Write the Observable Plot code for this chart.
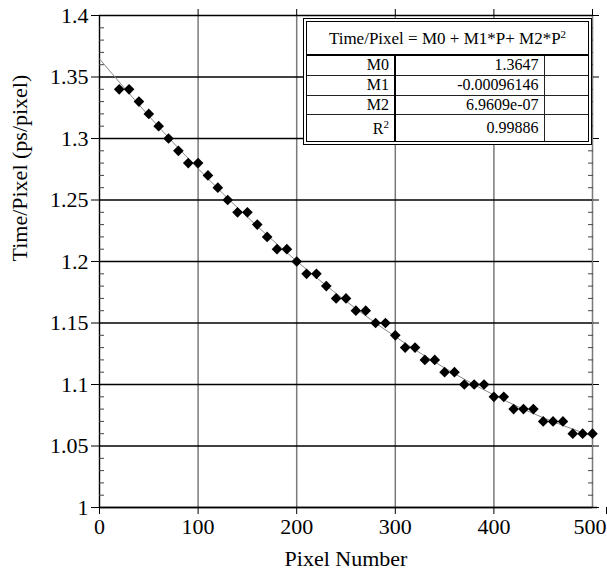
<!DOCTYPE html>
<html>
<head>
<meta charset="utf-8">
<script src="https://cdn.jsdelivr.net/npm/d3@7"></script>
<script src="https://cdn.jsdelivr.net/npm/@observablehq/plot@0.6"></script>
<style>
  html, body { margin: 0; padding: 0; background: white; }
  #wrap { position: relative; width: 607px; height: 570px; }
  #wrap svg, #wrap svg text { font-family: "Liberation Serif", "Times New Roman", serif !important; }
  #fitbox {
    position: absolute; left: 303px; top: 18px; width: 281px; height: 119px;
    border: 4px double black; background: white;
    font-family: "Liberation Serif", serif; font-size: 16px; color: black;
  }
  #fitbox table { border-collapse: collapse; width: 100%; height: 100%; table-layout: fixed; }
  #fitbox td { padding: 0 5px; line-height: 1; text-align: right; border: 1px solid #222; }
  #fitbox tr:first-child td { font-size: 17px; text-align: center; border-top: none; border-left: none; border-right: none; border-bottom: 2px solid black; height: 32px; }
  #fitbox td.lab { border-left: none; border-right: 2px solid black; }
  #fitbox td.end { border-right: none; }
  #fitbox tr:last-child td { border-bottom: none; }
  #fitbox sup { font-size: 11px; vertical-align: 6px; }
</style>
</head>
<body>
<div id="wrap"></div>
<script>
// ---- data ----
const pixel = [20, 30, 40, 50, 60, 70, 80, 90, 100, 110, 120, 130, 140, 150, 160, 170, 180, 190, 200,
  210, 220, 230, 240, 250, 260, 270, 280, 290, 300, 310, 320, 330, 340, 350, 360, 370, 380, 390, 400,
  410, 420, 430, 440, 450, 460, 470, 480, 490, 500];
const timePerPixel = [1.34, 1.34, 1.33, 1.32, 1.31, 1.30, 1.29, 1.28, 1.28, 1.27, 1.26, 1.25, 1.24, 1.24, 1.23, 1.22, 1.21, 1.21, 1.20,
  1.19, 1.19, 1.18, 1.17, 1.17, 1.16, 1.16, 1.15, 1.15, 1.14, 1.13, 1.13, 1.12, 1.12, 1.11, 1.11, 1.10, 1.10, 1.10, 1.09,
  1.09, 1.08, 1.08, 1.08, 1.07, 1.07, 1.07, 1.06, 1.06, 1.06];
// fitted curve
const fitPixel = [0, 50, 100, 150, 200, 250, 300, 350, 400, 450, 500];
const fitTime = [1.3647, 1.3184, 1.2755, 1.2361, 1.2003, 1.1678, 1.1389, 1.1135, 1.0915, 1.0730, 1.0580];
// axes
const xTicks = [0, 100, 200, 300, 400, 500];
const xTickLabels = ["0", "100", "200", "300", "400", "500"];
const yTicks = [1, 1.05, 1.1, 1.15, 1.2, 1.25, 1.3, 1.35, 1.4];
const yTickLabels = ["1", "1.05", "1.1", "1.15", "1.2", "1.25", "1.3", "1.35", "1.4"];
const yMinorTicks = [1.01, 1.02, 1.03, 1.04, 1.06, 1.07, 1.08, 1.09, 1.11, 1.12, 1.13, 1.14, 1.16, 1.17, 1.18, 1.19,
  1.21, 1.22, 1.23, 1.24, 1.26, 1.27, 1.28, 1.29, 1.31, 1.32, 1.33, 1.34, 1.36, 1.37, 1.38, 1.39];
const xTitle = "Pixel Number";
const yTitle = "Time/Pixel (ps/pixel)";
// fit table
const fitTitle = "Time/Pixel = M0 + M1*P+ M2*P";
const paramNames = ["M0", "M1", "M2", "R"];
const paramValues = ["1.3647", "-0.00096146", "6.9609e-07", "0.99886"];

const points = pixel.map((p, i) => ({p, t: timePerPixel[i]}));
const fit = fitPixel.map((p, i) => ({p, t: fitTime[i]}));
const blank = () => "";
const xLabel = d => xTickLabels[xTicks.indexOf(d)];
const serif = "'Liberation Serif', 'Times New Roman', serif";

const chart = Plot.plot({
  width: 607,
  height: 570,
  marginLeft: 99,
  marginRight: 15,
  marginTop: 15,
  marginBottom: 63,
  style: {fontFamily: serif, fontSize: "22px", color: "black", background: "white"},
  x: {domain: [0, 500]},
  y: {domain: [1, 1.4]},
  marks: [
    Plot.ruleX(xTicks.slice(1), {stroke: "#7a7a7a", strokeWidth: 1.5}),
    Plot.ruleY(yTicks, {stroke: "black", strokeWidth: 1.4}),
    Plot.ruleX([0], {stroke: "black", strokeWidth: 1.4}),
    Plot.ruleY([1], {stroke: "black", strokeWidth: 1.4, insetRight: -5}),
    Plot.axisY({ticks: yTicks, tickSize: 8, tickPadding: 3, label: null, fontFamily: serif,
      tickFormat: d => yTickLabels[yTicks.indexOf(d)]}),
    Plot.axisY({ticks: yMinorTicks, tickSize: -5, tickFormat: blank, label: null, stroke: "#444"}),
    Plot.axisY({anchor: "right", ticks: yTicks, tickSize: 6, tickFormat: blank, label: null}),
    Plot.axisY({anchor: "right", ticks: yMinorTicks, tickSize: -5, tickFormat: blank, label: null, stroke: "#444"}),
    Plot.axisX({ticks: xTicks.slice(0, 5), tickSize: 7, tickPadding: 4, label: null, fontFamily: serif,
      tickFormat: xLabel}),
    Plot.axisX({ticks: xTicks.slice(5), tickSize: 7, tickPadding: 4, label: null, fontFamily: serif,
      tickFormat: xLabel, textAnchor: "end", dx: 14}),
    Plot.axisX({anchor: "top", ticks: xTicks.slice(1), tickSize: 7, tickFormat: blank, label: null}),
    Plot.line(fit, {x: "p", y: "t", stroke: "#888", strokeWidth: 1, curve: "natural"}),
    Plot.dot(points, {x: "p", y: "t", symbol: "diamond2", r: 4.8, fill: "black", stroke: "none"}),
    Plot.text([xTitle], {frameAnchor: "bottom", lineAnchor: "bottom", dy: 58, fontSize: 22, fontFamily: serif}),
    Plot.text([yTitle], {frameAnchor: "left", rotate: -90, dx: -80, fontSize: 22, fontFamily: serif})
  ]
});

const wrap = document.getElementById("wrap");
wrap.appendChild(chart);

// fit-result box drawn over the plot
const box = document.createElement("div");
box.id = "fitbox";
const rowsHtml = paramNames.map((n, i) => {
  const label = n === "R" ? "R<sup>2</sup>" : n;
  const va = n === "R" ? "bottom" : "middle";
  const pad = n === "R" ? "padding-bottom:4px;" : "";
  return `<tr><td class="lab" style="vertical-align:${va};${pad}">${label}</td><td>${paramValues[i]}</td><td class="end"></td></tr>`;
}).join("");
box.innerHTML = `<table><colgroup><col style="width:88px"><col style="width:149px"><col></colgroup>
<tr><td colspan="3">${fitTitle}<sup>2</sup></td></tr>${rowsHtml}</table>`;
wrap.appendChild(box);
</script>
</body>
</html>
